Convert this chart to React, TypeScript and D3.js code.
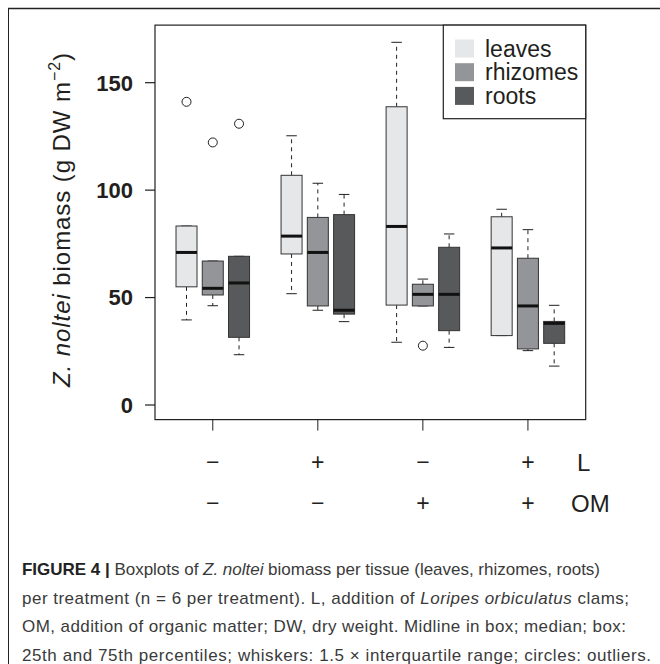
import React from "react";
import * as d3 from "d3";

const tissues = ["leaves", "rhizomes", "roots"];
const tissueColors = ["#e6e7e8", "#939598", "#58595b"];
const lLabels = ["\u2212", "+", "\u2212", "+"];
const omLabels = ["\u2212", "\u2212", "+", "+"];
const yTicks = [0, 50, 100, 150];

// [lower whisker, Q1, median, Q3, upper whisker] per treatment
const leavesStats = [
  [39.6, 55.0, 71.0, 83.3, 83.3],
  [51.8, 70.3, 78.6, 106.9, 125.3],
  [29.2, 46.5, 83.1, 138.8, 168.8],
  [32.3, 32.3, 73.1, 87.6, 91.1],
];
const rhizomesStats = [
  [46.2, 51.2, 54.3, 67.0, 67.0],
  [44.1, 46.1, 71.0, 87.3, 103.2],
  [46.1, 46.1, 51.5, 56.2, 58.6],
  [25.3, 26.1, 46.1, 68.3, 81.6],
];
const rootsStats = [
  [23.4, 31.5, 56.8, 69.2, 69.2],
  [38.8, 42.3, 44.1, 88.6, 98.0],
  [26.8, 34.6, 51.5, 73.4, 79.6],
  [18.1, 28.7, 38.0, 38.9, 46.4],
];
const leavesOutliers = [[141.1], [], [], []];
const rhizomesOutliers = [[122.2], [], [27.6], []];
const rootsOutliers = [[130.9], [], [], []];

const allStats = [leavesStats, rhizomesStats, rootsStats];
const allOutliers = [leavesOutliers, rhizomesOutliers, rootsOutliers];

const FONT = "'Liberation Sans', Arial, Helvetica, sans-serif";

export default function App() {
  const x = d3.scaleLinear().domain([-0.2, 16.2]).range([155, 585.7]);
  const y = d3.scaleLinear().domain([0, 150]).range([405, 82.7]);
  const plotTop = y(176.8);
  const plotBottom = y(-6.8);
  const unit = x(1) - x(0);
  const boxW = 0.8 * unit;
  const stapleW = 0.4 * unit;
  const ink = "#231f20";

  const boxes: React.ReactNode[] = [];
  allStats.forEach((series, j) => {
    series.forEach((s, i) => {
      const pos = i * 4 + j + 1;
      const cx = x(pos);
      const [lo, q1, med, q3, hi] = s;
      boxes.push(
        <g key={`b${i}-${j}`}>
          <line x1={cx} x2={cx} y1={y(q3)} y2={y(hi)} stroke={ink} strokeWidth={1} strokeDasharray="4 4" />
          <line x1={cx} x2={cx} y1={y(q1)} y2={y(lo)} stroke={ink} strokeWidth={1} strokeDasharray="4 4" />
          <line x1={cx - stapleW / 2} x2={cx + stapleW / 2} y1={y(hi)} y2={y(hi)} stroke={ink} strokeWidth={1} />
          <line x1={cx - stapleW / 2} x2={cx + stapleW / 2} y1={y(lo)} y2={y(lo)} stroke={ink} strokeWidth={1} />
          <rect x={cx - boxW / 2} y={y(q3)} width={boxW} height={y(q1) - y(q3)} fill={tissueColors[j]} stroke="#333" strokeWidth={1} />
          <line x1={cx - boxW / 2} x2={cx + boxW / 2} y1={y(med)} y2={y(med)} stroke="#111" strokeWidth={3} />
          {allOutliers[j][i].map((v, k) => (
            <circle key={k} cx={cx} cy={y(v)} r={4.5} fill="none" stroke={ink} strokeWidth={1} />
          ))}
        </g>
      );
    });
  });

  const groupCenters = [0, 1, 2, 3].map((i) => x(i * 4 + 2));

  return (
    <svg width={660} height={664} style={{ position: "absolute", left: 0, top: 0 }} fontFamily={FONT}>
      <rect x={0} y={0} width={660} height={664} fill="#fff" />
      {/* outer frame */}
      <line x1={8} x2={660} y1={8.5} y2={8.5} stroke="#222" strokeWidth={1.5} />
      <line x1={8.5} x2={8.5} y1={8} y2={664} stroke="#222" strokeWidth={1} />

      {/* plot box */}
      <rect x={155} y={plotTop} width={585.7 - 155} height={plotBottom - plotTop} fill="none" stroke={ink} strokeWidth={1.2} />

      {boxes}

      {/* y axis */}
      {yTicks.map((t) => (
        <g key={t}>
          <line x1={145} x2={155} y1={y(t)} y2={y(t)} stroke={ink} strokeWidth={1.2} />
          <text x={133} y={y(t)} dy="0.36em" textAnchor="end" fontSize={22} fontWeight="bold" fill={ink}>
            {t}
          </text>
        </g>
      ))}
      <text transform={`translate(70,220) rotate(-90)`} textAnchor="middle" fontSize={24} fill={ink} textLength={334} lengthAdjust="spacing">
        <tspan fontStyle="italic">Z. noltei</tspan>
        <tspan> biomass (g DW m</tspan>
        <tspan fontSize={16} dy={-10}>{"\u22122"}</tspan>
        <tspan dy={10}>)</tspan>
      </text>

      {/* x axis ticks and treatment labels */}
      {groupCenters.map((cx, i) => (
        <g key={i}>
          <line x1={cx} x2={cx} y1={plotBottom} y2={plotBottom + 11} stroke={ink} strokeWidth={1} />
          <text x={cx} y={462} dy="0.36em" textAnchor="middle" fontSize={23} fill={ink}>
            {lLabels[i]}
          </text>
          <text x={cx} y={503} dy="0.36em" textAnchor="middle" fontSize={23} fill={ink}>
            {omLabels[i]}
          </text>
        </g>
      ))}
      <text x={577} y={462} dy="0.36em" fontSize={24} fill={ink}>L</text>
      <text x={571} y={503} dy="0.36em" fontSize={24} fill={ink}>OM</text>

      {/* legend */}
      <rect x={443.3} y={plotTop} width={585.7 - 443.3} height={118.7 - plotTop} fill="#fff" stroke={ink} strokeWidth={1.2} />
      {tissues.map((t, j) => {
        const cy = 48.5 + j * 23.7;
        return (
          <g key={t}>
            <rect x={455} y={cy - 9} width={19} height={18} fill={tissueColors[j]} />
            <text x={485} y={cy} dy="0.36em" fontSize={23} fill={ink}>
              {t}
            </text>
          </g>
        );
      })}

      {/* caption */}
      <g fontSize={17} fill="#3a3a3a">
        <text x={22} y={575} textLength={578} lengthAdjust="spacing">
          <tspan fontWeight="bold" fill="#222">FIGURE 4 | </tspan>
          <tspan>Boxplots of </tspan>
          <tspan fontStyle="italic">Z. noltei</tspan>
          <tspan> biomass per tissue (leaves, rhizomes, roots)</tspan>
        </text>
        <text x={22} y={604} textLength={607} lengthAdjust="spacing">
          <tspan>per treatment (n = 6 per treatment). L, addition of </tspan>
          <tspan fontStyle="italic">Loripes orbiculatus</tspan>
          <tspan> clams;</tspan>
        </text>
        <text x={22} y={632} textLength={604} lengthAdjust="spacing">
          OM, addition of organic matter; DW, dry weight. Midline in box; median; box:
        </text>
        <text x={22} y={661} textLength={629} lengthAdjust="spacing">
          25th and 75th percentiles; whiskers: 1.5 {"\u00d7"} interquartile range; circles: outliers.
        </text>
      </g>
    </svg>
  );
}
